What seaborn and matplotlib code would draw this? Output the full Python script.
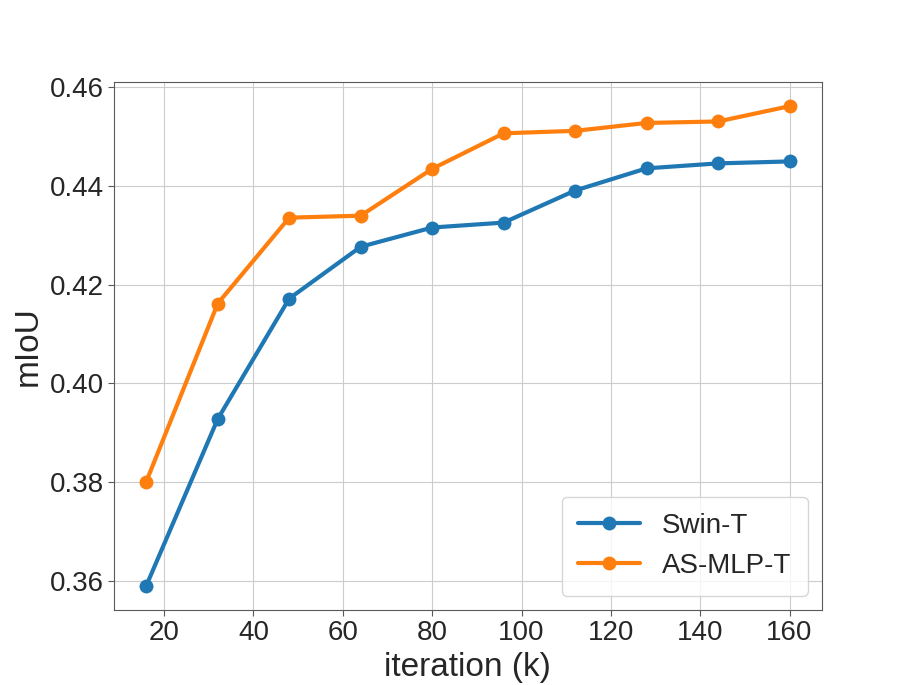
import matplotlib
matplotlib.use("Agg")
import matplotlib.pyplot as plt
import pandas as pd
import seaborn as sns

# iterations in thousands
iterations = [16, 32, 48, 64, 80, 96, 112, 128, 144, 160]
swin_t = [0.3590, 0.3928, 0.4172, 0.4277, 0.4316, 0.4326, 0.4391, 0.4436, 0.4446, 0.4450]
as_mlp_t = [0.3801, 0.4162, 0.4336, 0.4340, 0.4435, 0.4507, 0.4512, 0.4528, 0.4531, 0.4562]
models = ["Swin-T", "AS-MLP-T"]

df = pd.DataFrame({
    "iteration": iterations * 2,
    "mIoU": swin_t + as_mlp_t,
    "model": [models[0]] * len(iterations) + [models[1]] * len(iterations),
})

sns.set_style("whitegrid", {"axes.edgecolor": "0.35", "xtick.bottom": True, "ytick.left": True})
plt.rcParams["font.family"] = ["Liberation Sans", "DejaVu Sans"]

fig, ax = plt.subplots(figsize=(9.13, 6.85), dpi=100)
sns.lineplot(data=df, x="iteration", y="mIoU", hue="model", marker="o",
             markersize=10, markeredgewidth=0, linewidth=3,
             palette=["#1f77b4", "#ff7f0e"], ax=ax)

ax.set_xlabel("iteration (k)", fontsize=24)
ax.set_ylabel("mIoU", fontsize=24)
ax.tick_params(labelsize=20, length=4, color="0.35")
ax.set_xticks([20, 40, 60, 80, 100, 120, 140, 160])
ax.set_yticks([0.36, 0.38, 0.40, 0.42, 0.44, 0.46])
ax.set_yticklabels(["0.36", "0.38", "0.40", "0.42", "0.44", "0.46"])
ax.legend(title=None, loc="lower right", fontsize=20, handlelength=2.2, borderpad=0.6)

plt.savefig("out.png")
